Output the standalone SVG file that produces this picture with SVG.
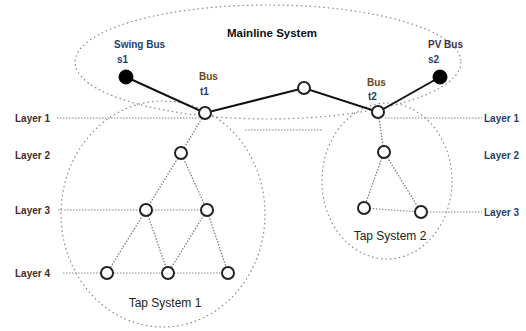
<svg xmlns="http://www.w3.org/2000/svg" width="526" height="331" viewBox="0 0 526 331">
<style>
.bg{fill:#fff}
.region{fill:none;stroke:#888;stroke-width:1.2;stroke-dasharray:1.5 3}
.layer{fill:none;stroke:#888;stroke-width:1.1;stroke-dasharray:1.5 1.5}
.main{fill:none;stroke:#111;stroke-width:2}
.tap{fill:none;stroke:#777;stroke-width:1.2;stroke-dasharray:1.5 1.5}
.open{fill:#fff;stroke:#222;stroke-width:2}
.fill{fill:#000;stroke:#000;stroke-width:1}
text{font-family:"Liberation Sans",Arial,sans-serif;font-size:10px;font-weight:bold}
.ll{fill:#4a2a24}
.lr{fill:#1f3f6f}
.bl{fill:#1f3f6f}
.tt{fill:#222;font-weight:normal;font-size:12px}
.title{fill:#111;font-size:11.5px}
</style>
<rect class="bg" x="0" y="0" width="526" height="331"/>
<g id="regions">
<ellipse class="region" cx="268" cy="62" rx="193" ry="57"/>
<ellipse class="region" cx="163" cy="214" rx="102" ry="113"/>
<ellipse class="region" cx="387" cy="181" rx="65" ry="78"/>
</g>
<g id="connectors">
<line class="layer" x1="57" y1="118" x2="200" y2="118"/>
<line class="layer" x1="245" y1="130" x2="323" y2="130"/>
<line class="layer" x1="385" y1="118" x2="482" y2="118"/>
<line class="layer" x1="58" y1="210" x2="146" y2="210"/>
<line class="layer" x1="146" y1="210" x2="207" y2="210"/>
<line class="layer" x1="63" y1="273" x2="228" y2="273"/>
<line class="layer" x1="421" y1="212" x2="482" y2="212"/>
<line class="layer" x1="364" y1="208" x2="421" y2="212"/>
<polyline class="main" points="126,77 205,113 304,88 378,112 440,77"/>
<line class="tap" x1="205" y1="113" x2="181" y2="153"/>
<line class="tap" x1="181" y1="153" x2="146" y2="210"/>
<line class="tap" x1="181" y1="153" x2="207" y2="210"/>
<line class="tap" x1="146" y1="210" x2="107" y2="273"/>
<line class="tap" x1="146" y1="210" x2="168" y2="273"/>
<line class="tap" x1="207" y1="210" x2="168" y2="273"/>
<line class="tap" x1="207" y1="210" x2="228" y2="273"/>
<line class="tap" x1="378" y1="112" x2="384" y2="152"/>
<line class="tap" x1="384" y1="152" x2="364" y2="208"/>
<line class="tap" x1="384" y1="152" x2="421" y2="212"/>
</g>
<g id="node-s1"><circle class="fill" cx="126" cy="77" r="7"/></g>
<g id="node-s2"><circle class="fill" cx="440" cy="77" r="7"/></g>
<g id="node-t1"><circle class="open" cx="205" cy="113" r="6"/></g>
<g id="node-mid"><circle class="open" cx="304" cy="88" r="6"/></g>
<g id="node-t2"><circle class="open" cx="378" cy="112" r="6"/></g>
<g id="node-a2"><circle class="open" cx="181" cy="153" r="6"/></g>
<g id="node-a3l"><circle class="open" cx="146" cy="210" r="6"/></g>
<g id="node-a3r"><circle class="open" cx="207" cy="210" r="6"/></g>
<g id="node-a4l"><circle class="open" cx="107" cy="273" r="6"/></g>
<g id="node-a4m"><circle class="open" cx="168" cy="273" r="6"/></g>
<g id="node-a4r"><circle class="open" cx="228" cy="273" r="6"/></g>
<g id="node-b2"><circle class="open" cx="384" cy="152" r="6"/></g>
<g id="node-b3l"><circle class="open" cx="364" cy="208" r="6"/></g>
<g id="node-b3r"><circle class="open" cx="421" cy="212" r="6"/></g>
<g id="labels">
<text class="title" x="272" y="37" text-anchor="middle">Mainline System</text>
<text class="bl" x="114" y="48">Swing Bus</text>
<text class="bl" x="117" y="63">s1</text>
<text class="bl" x="428" y="48" fill="#4a2f4f" style="fill:#3f2f55">PV Bus</text>
<text class="bl" x="428" y="63">s2</text>
<text x="199" y="80" style="fill:#6a4a1a">Bus</text>
<text class="bl" x="200" y="95">t1</text>
<text x="367" y="86" style="fill:#6a4a1a">Bus</text>
<text class="bl" x="368" y="100">t2</text>
<text class="ll" x="15" y="122">Layer 1</text>
<text class="ll" x="15" y="159">Layer 2</text>
<text class="ll" x="15" y="214">Layer 3</text>
<text class="ll" x="15" y="277">Layer 4</text>
<text class="lr" x="484" y="122">Layer 1</text>
<text class="lr" x="484" y="159">Layer 2</text>
<text class="lr" x="484" y="216">Layer 3</text>
<text class="tt" x="165" y="307" text-anchor="middle">Tap System 1</text>
<text class="tt" x="390" y="240" text-anchor="middle">Tap System 2</text>
</g>
</svg>
